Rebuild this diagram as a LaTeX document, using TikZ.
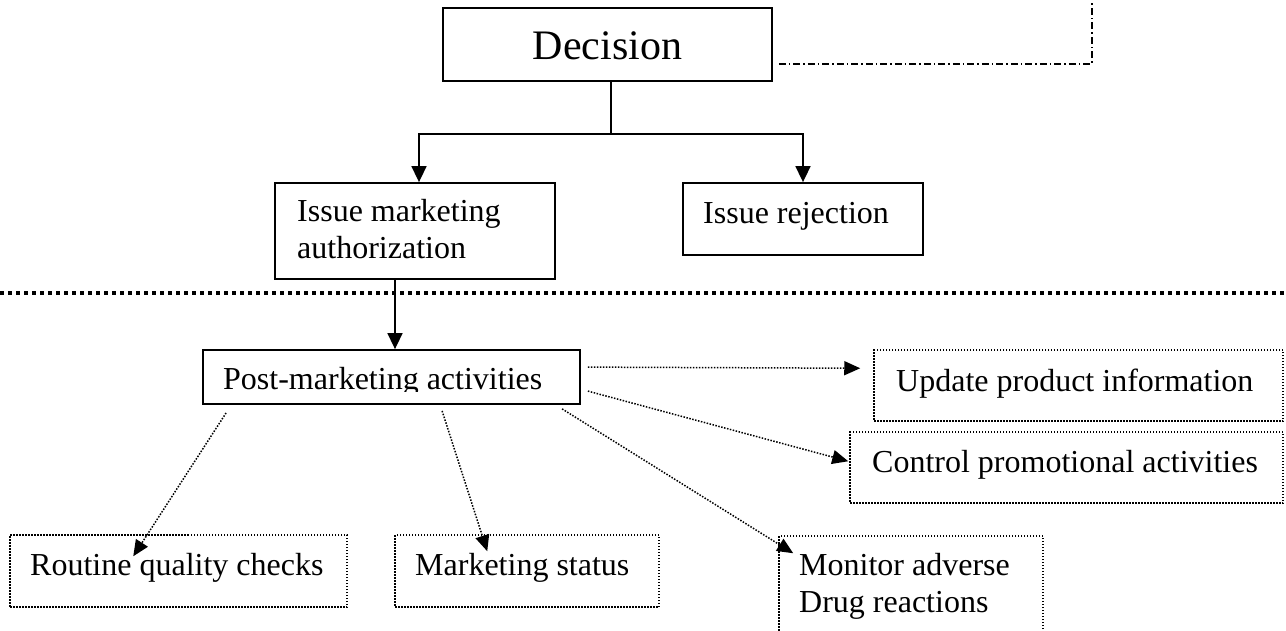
\documentclass[tikz,border=0pt]{standalone}
\usepackage{fontspec}
\setmainfont{Liberation Serif}
\usetikzlibrary{arrows.meta,calc}
\begin{document}
\begin{tikzpicture}[x=1pt,y=-1pt,
  solidbox/.style={draw,line width=1.8pt,inner sep=0pt},
  dotbox/.style={draw,line width=1.5pt,dash pattern=on 1.5pt off 1.5pt,inner sep=0pt},
  lbl/.style={inner sep=0pt,anchor=base west,font=\fontsize{32}{36.5}\selectfont,align=left},
  link/.style={line width=1.6pt},
  solidarrow/.style={link,-{Triangle[length=16pt,width=15pt]}},
  dotarrow/.style={line width=1.5pt,dash pattern=on 1.5pt off 1.5pt,-{Triangle[length=16pt,width=14pt]}},
  dashdotline/.style={line width=1.3pt,dash pattern=on 7pt off 3pt on 1.5pt off 3pt},
  sepline/.style={line width=3.5pt,dash pattern=on 4pt off 4pt}
]
\useasboundingbox (0,0) rectangle (1286,630);
\clip (0,0) rectangle (1286,630);

% boxes
\node[solidbox,minimum width=329pt,minimum height=73pt] (dec) at (607.5,44.5) {};
\node[solidbox,minimum width=280pt,minimum height=96pt] (ima) at (415,231) {};
\node[solidbox,minimum width=240pt,minimum height=72pt] (rej) at (803,219) {};
\node[solidbox,minimum width=377pt,minimum height=54pt] (post) at (391.5,377) {};
\node[dotbox,minimum width=409pt,minimum height=71pt] (upd) at (1078.5,385.5) {};
\node[dotbox,minimum width=433pt,minimum height=71pt] (ctl) at (1066.5,467.5) {};
\node[dotbox,minimum width=264pt,minimum height=114pt] (mon) at (911,593) {};
\node[dotbox,minimum width=337pt,minimum height=72pt] (rtn) at (178.5,571) {};
\node[dotbox,minimum width=264pt,minimum height=72pt] (mks) at (527,571) {};

% texts
\node[inner sep=0pt,anchor=base,font=\fontsize{42}{48}\selectfont] (tdec) at (607.5,59) {Decision};
\node[lbl] (tima) at (297,258) {Issue marketing\\authorization};
\node[lbl] (trej) at (703,223) {Issue rejection};
\begin{scope}
  \clip (203,340) rectangle (580,391);
  \node[lbl] (tpost) at (223,389) {Post-marketing activities};
\end{scope}
\node[lbl] (tupd) at (896,391) {Update product information};
\node[lbl] (tctl) at (872,472) {Control promotional activities};
\node[lbl] (tmon) at (799,612) {Monitor adverse\\Drug reactions};
\node[lbl] (trtn) at (30,575) {Routine quality checks};
\node[lbl] (tmks) at (415,575) {Marketing status};

% decision tree connectors
\coordinate (junc) at ($(dec.south)+(3.5,52)$);
\coordinate (decb) at ($(dec.south)+(3.5,0)$);
\coordinate (imat) at ($(ima.north)+(4,0)$);
\draw[link] (decb) -- (junc);
\draw[solidarrow] (junc) -| (imat);
\draw[solidarrow] (junc) -| (rej.north);

% dash-dot line to the top
\coordinate (ddstart) at ($(dec.south east)+(6,-18)$);
\coordinate (ddend) at (1092,0);
\draw[dashdotline] (ddstart) -| (ddend);

% separator
\coordinate (sepL) at (0,293);
\coordinate (sepR) at (1286,293);
\draw[sepline] (sepL) -- (sepR);

% to post-marketing
\coordinate (imab) at ($(ima.south)+(-20,0)$);
\draw[solidarrow] (imab) -- (imab |- post.north);

% post-marketing activities
\draw[dotarrow] ($(post.north east)+(7,18)$) -- ($(upd.north west)+(-13,19)$);
\draw[dotarrow] ($(post.north east)+(7,42)$) -- ($(ctl.north west)+(-1,30)$);
\draw[dotarrow] ($(post.south west)+(360,4)$) -- ($(mon.north west)+(15,18)$);
\draw[dotarrow] ($(post.south west)+(24,8)$) -- ($(rtn.north west)+(124,22)$);
\draw[dotarrow] ($(post.south west)+(240,6)$) -- ($(mks.north west)+(93,17)$);
\end{tikzpicture}
\end{document}
